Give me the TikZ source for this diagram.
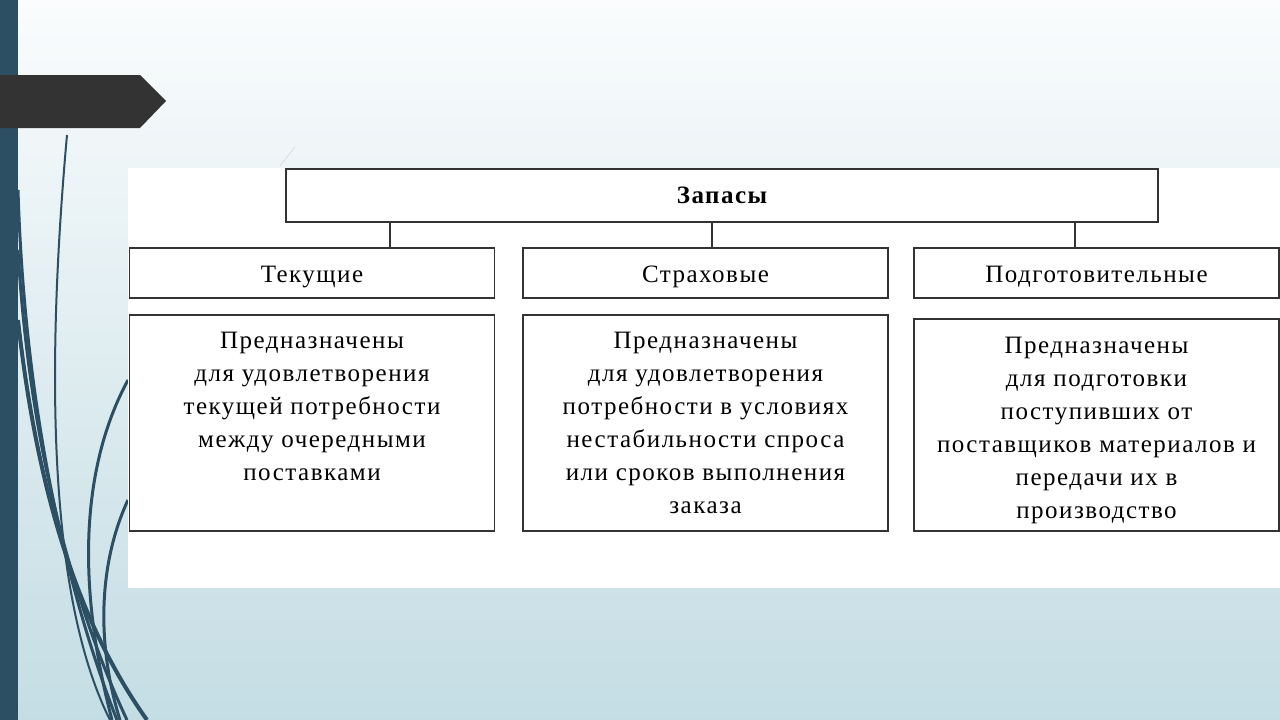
\documentclass[tikz,border=0pt]{standalone}
\usepackage{fontspec}
\setmainfont{Liberation Serif}[LetterSpace=6]
\usetikzlibrary{positioning}
\definecolor{slate}{RGB}{44,79,99}
\definecolor{bgtop}{RGB}{250,252,253}
\definecolor{bgbot}{RGB}{196,221,228}

\begin{document}
\begin{tikzpicture}[x=1pt,y=-1pt,
    every node/.style={draw=black!80,line width=1.5pt,fill=white,font=\fontsize{25}{33}\selectfont,align=center},
    lbl/.style={minimum width=365pt,minimum height=50pt,inner sep=0pt,text height=21pt,text depth=2pt},
    desc/.style={minimum width=365pt,minimum height=216pt},
    txt/.style={draw=none,fill=none,inner sep=0pt},
    curl/.style={slate,line width=3pt}]
  \useasboundingbox (0,0) rectangle (1280,720);
  \shade[top color=bgtop,bottom color=bgbot] (0,0) rectangle (1280,720);
  % curves on the left
  \draw[curl] (18,190) .. controls (25,420) and (70,600) .. (117,720);
  \draw[curl] (18,250) .. controls (30,460) and (80,620) .. (127,720);
  \draw[curl,line width=4pt] (18,320) .. controls (40,520) and (90,640) .. (147,720);
  \draw[curl,line width=2pt] (67,135) .. controls (45,380) and (50,600) .. (110,720);
  \draw[curl] (128,380) .. controls (90,450) and (70,560) .. (112,720);
  \draw[curl] (128,500) .. controls (100,560) and (95,640) .. (120,720);
  \fill[slate] (0,0) rectangle (18,720);
  \fill[black!80] (0,75) -- (140,75) -- (166,101) -- (140,128) -- (0,128) -- cycle;
  \draw[black!20,thin] (280,166) -- (295,147);
  \fill[white] (128,168) rectangle (1280,588);
  % diagram
  \node[minimum width=872pt,minimum height=53pt,font=\fontsize{25}{33}\selectfont\bfseries] (Zapasy) at (722,195.5) {Запасы};
  \node[lbl] (Tekushchie) at (312,273) {Текущие};
  \node[lbl] (Strakhovye) at (705.5,273) {Страховые};
  \node[lbl] (Podgot) at (1096.5,273) {Подготовительные};
  \node[desc] (TekBox) at (312,423) {};
  \node[desc] (StrBox) at (705.5,423) {};
  \node[desc,minimum height=212pt] (PodBox) at (1096.5,425) {};
  \node[txt,below=17pt of TekBox.north] (TekText) {Предназначены\\ для удовлетворения\\ текущей потребности\\ между очередными\\ поставками};
  \node[txt,below=17pt of StrBox.north] (StrText) {Предназначены\\ для удовлетворения\\ потребности в условиях\\ нестабильности спроса\\ или сроков выполнения\\ заказа};
  \node[txt,below=18pt of PodBox.north] (PodText) {Предназначены\\ для подготовки\\ поступивших от\\ поставщиков материалов и\\ передачи их в\\ производство};
  \path ([xshift=78pt]Tekushchie.north) coordinate (c1)
        ([xshift=6.5pt]Strakhovye.north) coordinate (c2)
        ([xshift=-21.5pt]Podgot.north) coordinate (c3);
  \foreach \c in {c1,c2,c3}
    \draw[black!80,line width=1.5pt] (\c) -- (\c |- Zapasy.south);
\end{tikzpicture}
\end{document}
